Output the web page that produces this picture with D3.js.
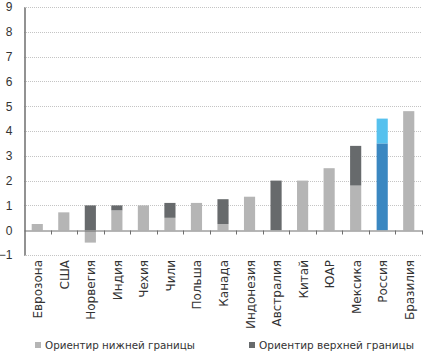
<!DOCTYPE html>
<html>
<head>
<meta charset="utf-8">
<script src="https://cdn.jsdelivr.net/npm/d3@7"></script>
<style>
  body { margin: 0; background: #fff; }
  svg { display: block; font-family: "DejaVu Sans", sans-serif; }
</style>
</head>
<body>
<svg id="chart" width="427" height="354"></svg>
<script>
const countries = ["Еврозона", "США", "Норвегия", "Индия", "Чехия", "Чили", "Польша", "Канада",
    "Индонезия", "Австралия", "Китай", "ЮАР", "Мексика", "Россия", "Бразилия"];
const lowerBound = [0.25, 0.72, -0.5, 0.8, 1.0, 0.5, 1.1, 0.25, 1.35, 0, 2.0, 2.5, 1.8, 3.5, 4.8];
const upperBound = [null, null, 1.0, 1.0, null, 1.1, null, 1.25, null, 2.0, null, null, 3.4, 4.5, null];
const yTicks = [-1, 0, 1, 2, 3, 4, 5, 6, 7, 8, 9];
const legendLabels = ["Ориентир нижней границы", "Ориентир верхней границы"];

const svg = d3.select("#chart");
const margin = {top: 7, right: 5, bottom: 99, left: 24};
const width = 427 - margin.right;
const height = 354 - margin.bottom;

const x = d3.scaleBand()
    .domain(countries)
    .range([margin.left, width])
    .paddingInner(0.58)
    .paddingOuter(0.29);

const y = d3.scaleLinear()
    .domain([-1, 9])
    .range([height, margin.top]);

// grid
svg.append("g")
    .selectAll("line")
    .data(yTicks.filter(d => d !== 0))
    .join("line")
    .attr("x1", margin.left)
    .attr("x2", width)
    .attr("y1", d => Math.round(y(d)) + 0.5)
    .attr("y2", d => Math.round(y(d)) + 0.5)
    .attr("stroke", "#c4c4c4")
    .attr("stroke-dasharray", "1,1");

// Bars
const colLight = (d, i) => i === 13 ? "#56c1ee" : "#b5b5b5";
const colDark = (d, i) => i === 13 ? "#3a87c1" : "#676a6c";

const rows = countries.map((c, i) => ({c, i, lo: lowerBound[i], hi: upperBound[i]}));

// lower-bound bars (Russia: dark blue base)
svg.append("g")
    .selectAll("rect")
    .data(rows)
    .join("rect")
    .attr("x", d => x(d.c))
    .attr("width", x.bandwidth())
    .attr("y", d => y(Math.max(d.lo, 0)))
    .attr("height", d => Math.abs(y(d.lo) - y(0)))
    .attr("fill", d => d.i === 13 ? colDark(d, d.i) : colLight(d, d.i));

// upper-bound part
svg.append("g")
    .selectAll("rect")
    .data(rows.filter(d => d.hi !== null))
    .join("rect")
    .attr("x", d => x(d.c))
    .attr("width", x.bandwidth())
    .attr("y", d => y(d.hi))
    .attr("height", d => y(Math.max(d.lo, 0)) - y(d.hi))
    .attr("fill", d => d.i === 13 ? colLight(d, d.i) : colDark(d, d.i));

// zero axis with category ticks
const xAxis = svg.append("g")
    .attr("transform", `translate(0,${Math.round(y(0)) + 0.5})`)
    .call(d3.axisBottom(x).tickSize(0).tickFormat(""));
xAxis.select(".domain").attr("stroke", "#6e6e6e");
xAxis.selectAll(".bnd")
    .data(d3.range(1, countries.length + 1))
    .join("line")
    .attr("class", "bnd")
    .attr("x1", i => Math.round(margin.left + i * x.step()) + 0.5)
    .attr("x2", i => Math.round(margin.left + i * x.step()) + 0.5)
    .attr("y1", 0)
    .attr("y2", 4)
    .attr("stroke", "#6e6e6e");

// y axis
const yAxis = svg.append("g")
    .attr("transform", `translate(${margin.left + 0.5},0)`)
    .call(d3.axisLeft(y).tickValues(yTicks).tickSize(0).tickFormat(d3.format("d")));
yAxis.select(".domain").attr("stroke", "#6e6e6e").attr("stroke-width", 1.5);
yAxis.selectAll(".tick text")
    .attr("x", -12)
    .attr("fill", "#333")
    .style("font-family", "'Liberation Sans', Arial, sans-serif")
    .style("font-size", "12px");

// category labels
svg.append("g")
    .selectAll("text")
    .data(countries)
    .join("text")
    .attr("transform", d => `translate(${x(d) + x.bandwidth() / 2 + 5},260) rotate(-90)`)
    .attr("text-anchor", "end")
    .attr("fill", "#333")
    .style("font-size", "12px")
    .text(d => d);

// Legend
const legend = svg.append("g");
const legendX = [35, 249];
const legendW = [150, 155];
const legendCol = ["#b5b5b5", "#676a6c"];
legendLabels.forEach((t, i) => {
    legend.append("rect")
        .attr("x", legendX[i])
        .attr("y", 342)
        .attr("width", 6)
        .attr("height", 6)
        .attr("fill", legendCol[i]);
    legend.append("text")
        .attr("x", legendX[i] + 10)
        .attr("y", 349)
        .attr("fill", "#333")
        .attr("textLength", legendW[i])
        .attr("lengthAdjust", "spacingAndGlyphs")
        .style("font-size", "11px")
        .text(t);
});
</script>
</body>
</html>
